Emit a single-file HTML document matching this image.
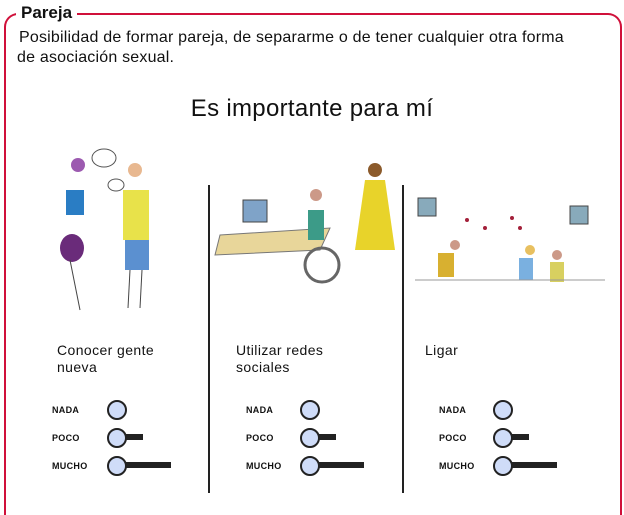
<!DOCTYPE html>
<html><head><style>
body{margin:0;width:624px;height:493px;background:#fff;position:relative;overflow:hidden;font-family:"Liberation Sans",sans-serif;}
.a{position:absolute}
.lbl{position:absolute;font-size:9px;font-weight:bold;color:#111;letter-spacing:.3px}
.c{position:absolute;width:16px;height:16px;border:2px solid #222;border-radius:50%;background:#cfdcf8}
.b{position:absolute;height:6px;background:#222}
.t{position:absolute;font-size:14px;color:#111;line-height:17px;letter-spacing:.4px}
</style></head><body>
<div class="a" style="left:4px;top:13px;width:614px;height:500px;border:2px solid #d0103a;border-bottom:none;border-radius:14px 14px 0 0;"></div>
<div class="a" style="left:16px;top:3px;background:#fff;padding:0 5px;font-size:17px;font-weight:bold;color:#111">Pareja</div>
<div class="t" style="left:19px;top:28px;font-size:16px;line-height:20px;letter-spacing:.2px">Posibilidad de formar pareja, de separarme o de tener cualquier otra forma<br><span style="margin-left:-2px">de asociación sexual.</span></div>
<div class="a" style="left:0;width:624px;top:95px;text-align:center;font-size:24px;letter-spacing:.3px;color:#111">Es importante para mí</div>
<div class="a" style="left:208px;top:185px;width:2px;height:308px;background:#222"></div>
<div class="a" style="left:402px;top:185px;width:2px;height:308px;background:#222"></div>

<svg class="a" style="left:0;top:140px" width="624" height="180">
<g fill="none" stroke="#555" stroke-width="1">
<ellipse cx="104" cy="18" rx="12" ry="9"/><ellipse cx="116" cy="45" rx="8" ry="6"/>
</g>
<circle cx="78" cy="25" r="7" fill="#9c5ab0"/><rect x="66" y="50" width="18" height="25" fill="#2a7dc4"/>
<ellipse cx="72" cy="108" rx="12" ry="14" fill="#6a2b7a"/>
<line x1="70" y1="120" x2="80" y2="170" stroke="#444"/>
<circle cx="135" cy="30" r="7" fill="#e8b890"/><rect x="123" y="50" width="26" height="50" fill="#e8e24a"/>
<rect x="125" y="100" width="24" height="30" fill="#5b90d0"/>
<line x1="130" y1="130" x2="128" y2="168" stroke="#444"/><line x1="142" y1="130" x2="140" y2="168" stroke="#444"/>
<polygon points="220,95 330,88 320,110 215,115" fill="#e8d69a" stroke="#777"/>
<rect x="243" y="60" width="24" height="22" fill="#7fa3c8" stroke="#444"/>
<circle cx="316" cy="55" r="6" fill="#c98"/><rect x="308" y="70" width="16" height="30" fill="#3c9b88"/>
<circle cx="322" cy="125" r="17" fill="none" stroke="#666" stroke-width="3"/>
<circle cx="375" cy="30" r="7" fill="#8b5a2b"/><path d="M365 40 L385 40 L395 110 L355 110Z" fill="#e8d32a"/>
<rect x="418" y="58" width="18" height="18" fill="#8ab" stroke="#444"/><rect x="570" y="66" width="18" height="18" fill="#8ab" stroke="#444"/>
<circle cx="455" cy="105" r="5" fill="#c98"/><rect x="438" y="113" width="16" height="24" fill="#d8b030"/>
<circle cx="530" cy="110" r="5" fill="#e8c060"/><rect x="519" y="118" width="14" height="22" fill="#7ab0e0"/>
<circle cx="557" cy="115" r="5" fill="#c98"/><rect x="550" y="122" width="14" height="20" fill="#d8d060"/>
<line x1="415" y1="140" x2="605" y2="140" stroke="#999"/>
<g fill="#a3203a"><circle cx="467" cy="80" r="2"/><circle cx="485" cy="88" r="2"/><circle cx="512" cy="78" r="2"/><circle cx="520" cy="88" r="2"/></g>
</svg>

<div class="t" style="left:57px;top:342px">Conocer gente<br>nueva</div>
<div class="t" style="left:236px;top:342px">Utilizar redes<br>sociales</div>
<div class="t" style="left:425px;top:342px">Ligar</div>

<div class="lbl" style="left:52px;top:405px">NADA</div>
<div class="lbl" style="left:52px;top:433px">POCO</div>
<div class="lbl" style="left:52px;top:461px">MUCHO</div>
<div class="c" style="left:107px;top:400px"></div>
<div class="b" style="left:125px;top:434px;width:18px"></div><div class="c" style="left:107px;top:428px"></div>
<div class="b" style="left:125px;top:462px;width:46px"></div><div class="c" style="left:107px;top:456px"></div>

<div class="lbl" style="left:246px;top:405px">NADA</div>
<div class="lbl" style="left:246px;top:433px">POCO</div>
<div class="lbl" style="left:246px;top:461px">MUCHO</div>
<div class="c" style="left:300px;top:400px"></div>
<div class="b" style="left:318px;top:434px;width:18px"></div><div class="c" style="left:300px;top:428px"></div>
<div class="b" style="left:318px;top:462px;width:46px"></div><div class="c" style="left:300px;top:456px"></div>

<div class="lbl" style="left:439px;top:405px">NADA</div>
<div class="lbl" style="left:439px;top:433px">POCO</div>
<div class="lbl" style="left:439px;top:461px">MUCHO</div>
<div class="c" style="left:493px;top:400px"></div>
<div class="b" style="left:511px;top:434px;width:18px"></div><div class="c" style="left:493px;top:428px"></div>
<div class="b" style="left:511px;top:462px;width:46px"></div><div class="c" style="left:493px;top:456px"></div>
</body></html>
